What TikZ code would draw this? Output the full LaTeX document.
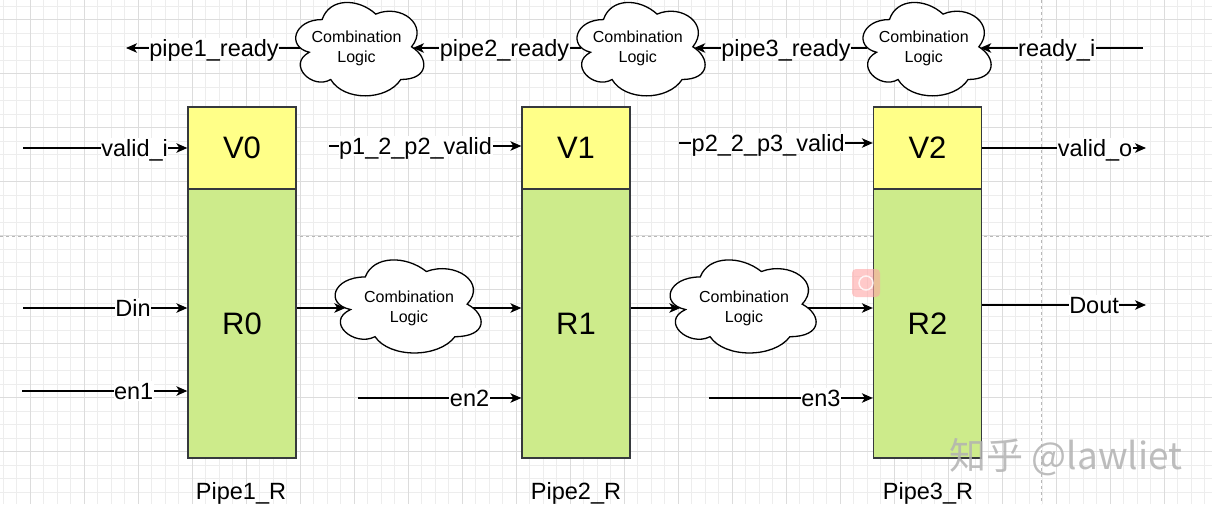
\documentclass[tikz,border=0pt]{standalone}
\usepackage{fontspec}
\setmainfont{Liberation Sans}
\newfontfamily\cjkwm{Noto Sans CJK SC}
\usetikzlibrary{arrows.meta,calc}
\definecolor{vyellow}{HTML}{FFFF88}
\definecolor{rgreen}{HTML}{CDEB8B}
\definecolor{boxline}{HTML}{36393D}
\definecolor{gridminor}{HTML}{EDEDED}
\definecolor{gridmajor}{HTML}{DCDCDC}
\definecolor{pageline}{HTML}{B8B8B8}
\newcommand\drawcloud[4]{%
  \draw[cloudline, shift={(#1,#2)}, x=#3pt, y=-#4pt]
    (0.25,0.25) .. controls (0.05,0.25) and (0,0.5) .. (0.16,0.55)
    .. controls (0,0.66) and (0.18,0.9) .. (0.31,0.8)
    .. controls (0.4,1) and (0.7,1) .. (0.8,0.8)
    .. controls (1,0.8) and (1,0.6) .. (0.875,0.5)
    .. controls (1,0.3) and (0.8,0.1) .. (0.625,0.2)
    .. controls (0.5,0.05) and (0.3,0.05) .. (0.25,0.25) -- cycle;}
\tikzset{
  vbox/.style={draw=boxline, fill=vyellow, line width=1.3pt, minimum width=108pt, minimum height=82pt, inner sep=0pt, font=\fontsize{31}{31}\selectfont},
  rbox/.style={draw=boxline, fill=rgreen, line width=1.3pt, minimum width=108pt, minimum height=269pt, inner sep=0pt, font=\fontsize{31}{31}\selectfont},
  cloudline/.style={draw=black, fill=white, line width=1.3pt},
  cloudtext/.style={inner sep=0pt, minimum height=30pt, align=center, font=\fontsize{16}{20}\selectfont},
  arr/.style={draw=black, line width=1.3pt, -{Stealth[length=11pt, width=9.5pt, inset=3pt]}},
  lbl/.style={fill=white, inner xsep=0.5pt, inner ysep=0pt, text height=18pt, text depth=2pt, font=\fontsize{23.5}{28}\selectfont},
  plbl/.style={inner sep=0pt, font=\fontsize{23.5}{28}\selectfont},
  wm/.style={inner sep=0pt, text=gray!60, opacity=0.85, font=\cjkwm\fontsize{37}{37}\selectfont}
}
\begin{document}
\begin{tikzpicture}[x=1pt, y=-1pt]
\useasboundingbox (0,0) rectangle (1212,504);
\clip (0,0) rectangle (1212,504);
\fill[white] (0,0) rectangle (1212,504);
% grid
\foreach \k in {0,...,89} \draw[gridminor, line width=0.8pt] ({3+13.5*\k},0) -- ++(0,504);
\foreach \k in {0,...,37} \draw[gridminor, line width=0.8pt] (0,{6.2+13.5*\k}) -- ++(1212,0);
\foreach \k in {0,...,21} \draw[gridmajor, line width=0.8pt] ({30+54*\k},0) -- ++(0,504);
\foreach \k in {0,...,8} \draw[gridmajor, line width=0.8pt] (0,{19.7+54*\k}) -- ++(1212,0);
% page borders
\draw[pageline, line width=0.8pt, dash pattern=on 3pt off 3pt] (0,236) -- (1212,236);
\draw[pageline, line width=0.8pt, dash pattern=on 3pt off 3pt] (1041,0) -- (1041,504);

% registers
\node[rbox] (R0) at (242,323.5) {R0};
\node[vbox] (V0) at (242,148) {V0};
\node[rbox] (R1) at (576,323.5) {R1};
\node[vbox] (V1) at (576,148) {V1};
\node[rbox] (R2) at (927.5,323.5) {R2};
\node[vbox] (V2) at (927.5,148) {V2};

% clouds
\drawcloud{286.4}{-7.7}{143}{109}
\node[cloudtext, minimum width=112.5pt] (c1) at (356.5,48) {Combination\\Logic};
\drawcloud{567.7}{-7.7}{143}{109}
\node[cloudtext, minimum width=112.5pt] (c2) at (637.75,48) {Combination\\Logic};
\drawcloud{853.7}{-7.7}{143}{109}
\node[cloudtext, minimum width=112.5pt] (c3) at (923.75,48) {Combination\\Logic};
\drawcloud{324.5}{249.8}{163}{108.6}
\node[cloudtext, minimum width=127pt] (c4) at (409,308) {Combination\\Logic};
\drawcloud{659.5}{249.8}{163}{108.6}
\node[cloudtext, minimum width=127pt] (c5) at (744,308) {Combination\\Logic};

% ready chain
\coordinate (pr1) at (126,48);
\draw[arr] (c1.west) -- node[lbl, pos=0.494] (Lp1) {pipe1\_ready} (pr1);
\draw[arr] (c2.west) -- node[lbl, pos=0.456] (Lp2) {pipe2\_ready} (c1.east);
\draw[arr] (c3.west) -- node[lbl, pos=0.47] (Lp3) {pipe3\_ready} (c2.east);
\coordinate (ri) at (1143,48);
\draw[arr] (ri) -- node[lbl, pos=0.53] (Lri) {ready\_i} (c3.east);

% valid chain
\coordinate (vi) at (23,148);
\draw[arr] (vi) -- node[lbl, pos=0.679] (Lvi) {valid\_i} (V0.west);
\coordinate (p12) at (329,146);
\draw[arr] (p12) -- node[lbl, pos=0.45] (Lp12) {p1\_2\_p2\_valid} (p12 -| V1.west);
\coordinate (p23) at (679,143);
\draw[arr] (p23) -- node[lbl, pos=0.46] (Lp23) {p2\_2\_p3\_valid} (p23 -| V2.west);
\coordinate (vo) at (1146,148);
\draw[arr] (V2.east) -- node[lbl, pos=0.689] (Lvo) {valid\_o} (vo);

% data chain
\coordinate (din) at (23,308);
\draw[arr] (din) -- node[lbl, pos=0.67] (Ldin) {Din} (din -| R0.west);
\draw[arr] (R0.east |- c4.west) -- (c4.west);
\draw[arr] (c4.east) -- (c4.east -| R1.west);
\draw[arr] (R1.east |- c5.west) -- (c5.west);
\draw[arr] (c5.east) -- (c5.east -| R2.west);
\coordinate (dout) at (1146,305);
\draw[arr] (dout -| R2.east) -- node[lbl, pos=0.683] (Ldout) {Dout} (dout);

% enables
\coordinate (e1) at (22,391);
\draw[arr] (e1) -- node[lbl, pos=0.675] (Le1) {en1} (e1 -| R0.west);
\coordinate (e2) at (358,398);
\draw[arr] (e2) -- node[lbl, pos=0.683] (Le2) {en2} (e2 -| R1.west);
\coordinate (e3) at (709,398);
\draw[arr] (e3) -- node[lbl, pos=0.683] (Le3) {en3} (e3 -| R2.west);

% stage names
\node[plbl, anchor=base] (P1) at (241,499) {Pipe1\_R};
\node[plbl, anchor=base] (P2) at (576,499) {Pipe2\_R};
\node[plbl, anchor=base] (P3) at (928,499) {Pipe3\_R};

% overlay marks
\node[fill=red!35, opacity=0.6, rounded corners=4pt, minimum size=28pt, inner sep=0pt] (icon) at (866,283) {};
\draw[white, line width=1.5pt, opacity=0.8] (icon.center) circle[radius=7pt];
\node[wm] (wm) at (1066,457) {知乎 @lawliet};
\end{tikzpicture}
\end{document}
